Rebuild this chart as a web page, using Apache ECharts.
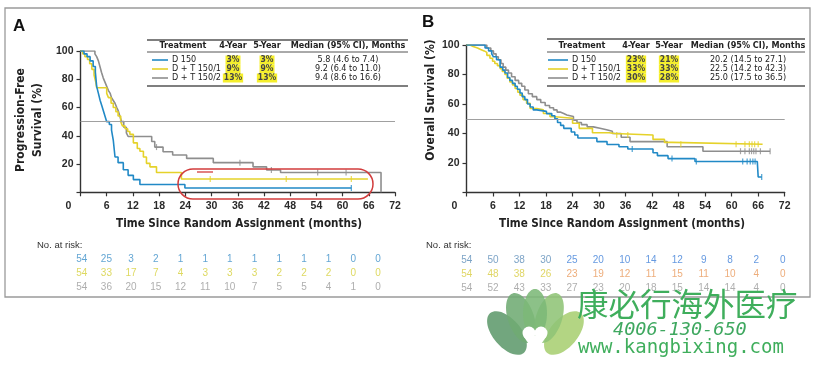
<!DOCTYPE html>
<html><head><meta charset="utf-8">
<script src="https://cdn.jsdelivr.net/npm/echarts@6/dist/echarts.min.js"></script>
<style>html,body{margin:0;padding:0;background:#fff}#c{width:817px;height:368px}</style>
</head><body><div id="c"></div>
<script>
// ---------- DATA ----------
const xTicks = [0,6,12,18,24,30,36,42,48,54,60,66,72];
const treatments = ['D 150','D + T 150/1','D + T 150/2'];
const pfs4Year = ['3%','9%','13%'];
const pfs5Year = ['3%','9%','13%'];
const pfsMedian = ['5.8 (4.6 to 7.4)','9.2 (6.4 to 11.0)','9.4 (8.6 to 16.6)'];
const os4Year = ['23%','33%','30%'];
const os5Year = ['21%','33%','28%'];
const osMedian = ['20.2 (14.5 to 27.1)','22.5 (14.2 to 42.3)','25.0 (17.5 to 36.5)'];

const atRiskTimes = [0,6,12,18,24,30,36,42,48,54,60,66,72];
const pfsAtRiskD150 = [54,25,3,2,1,1,1,1,1,1,1,0,0];
const pfsAtRiskDT1  = [54,33,17,7,4,3,3,3,2,2,2,0,0];
const pfsAtRiskDT2  = [54,36,20,15,12,11,10,7,5,5,4,1,0];
const osAtRiskD150  = [54,50,38,30,25,20,10,14,12,9,8,2,0];
const osAtRiskDT1   = [54,48,38,26,23,19,12,11,15,11,10,4,0];
const osAtRiskDT2   = [54,52,43,33,27,23,20,18,15,14,14,4,0];

// Kaplan-Meier step points [month, survival %]
const pfsD150 = [[0,100],[0.8,98],[1.5,96],[2.2,93],[2.9,89],[3.4,85],[3.7,75],[4.1,70],[4.5,65],[4.9,61],[5.3,57],[5.7,53],[6.0,50],[6.6,48],[7.1,44],[7.5,37],[7.9,25],[8.6,21],[9.8,16],[10.9,12],[12.1,9],[13.6,5.5],[23.9,3],[62,3]];
const pfsDT1 = [[0,100],[0.5,98],[1.0,96],[1.6,94],[2.1,91],[2.6,87],[3.1,83],[3.5,78],[3.7,74],[6.0,70],[6.4,67],[7.0,63],[7.5,60],[8.1,57],[8.6,54],[9.2,50],[9.6,47],[10.2,45],[10.8,43],[11.3,41],[12.1,35],[13.0,31],[13.6,29],[14.4,25],[15.1,20.5],[15.9,18],[17.4,14],[23.1,9.4],[65.8,9.4]];
const pfsDT2 = [[0,100],[3.3,98],[3.7,96],[4.1,93],[4.45,89],[4.8,85],[5.2,81],[5.6,78],[6.0,75],[6.4,72],[6.8,70],[7.1,67],[7.5,65],[7.9,63],[8.3,60],[8.6,58],[9.0,54],[9.4,50],[9.9,46],[10.5,42],[10.9,39.5],[16.3,36],[17.0,32],[18.9,28.7],[21.1,26.4],[24.3,24],[30.4,21],[39.5,18],[42.6,15.8],[45.8,14],[68.8,14],[68.8,0]];

const osD150 = [[0,100],[4.2,98],[5.0,96],[5.7,94],[6.1,92],[6.8,90],[7.6,85],[8.2,83],[8.7,81],[9.3,78],[9.8,76],[10.4,74],[11.0,72],[11.5,70],[12.1,67.5],[12.6,65],[13.2,63],[13.8,60],[14.4,58],[15.1,56],[15.9,55],[18.1,53.5],[19.3,52],[20.0,50],[20.6,47.5],[21.3,45.5],[22.0,43.5],[23.7,41],[24.5,39],[25.2,37],[29.5,34.5],[31.8,32.5],[34.5,31],[36.5,29.5],[42.2,27],[43.2,25],[45.6,23],[51.7,21],[65.8,21],[66.0,10.5],[66.8,10.5]];
const osDT1 = [[0,100],[0.8,99],[1.5,98],[2.5,97],[3.2,96],[4.0,95],[4.6,93],[5.3,91],[5.9,89],[6.4,87.5],[7.0,86],[7.6,84],[8.1,82],[8.7,80],[9.2,77.5],[9.8,75],[10.4,73],[11.0,70.5],[11.6,68],[12.1,66],[12.8,63],[13.6,60.5],[14.4,57],[15.9,56],[17.4,53.6],[18.9,51.4],[20.0,50.3],[24.0,47],[25.5,43.5],[28.5,40.5],[32.3,40],[33.5,39],[42.2,36],[44.8,34],[46.5,32.7],[67,32.7]];
const osDT2 = [[0,100],[4.6,98],[5.5,96],[6.1,94],[6.7,92],[7.2,90],[7.8,87.5],[8.3,85],[8.9,83],[9.5,81],[10.2,78.5],[11.0,76],[11.8,74],[12.5,72],[13.2,69.5],[14.0,67],[14.9,65],[15.9,63],[16.8,61],[17.8,59],[18.8,57.5],[19.7,56],[20.5,54.5],[21.2,53.5],[22.0,52.5],[22.7,51.5],[24.2,49],[25.0,47.5],[26.0,46],[27.3,44.5],[28.7,43.5],[30.2,42.5],[31.7,41.5],[33.0,40],[35.0,37.5],[37.0,34.5],[45.4,31],[53.5,28],[68.7,28]];

// censor times (months)
const pfsCensorD150 = [62];
const pfsCensorDT1 = [29.7,47.1,62];
const pfsCensorDT2 = [17.4,36.5,43.7,54.3,60.8];
const osCensorD150 = [37.5,46.5,52,62.5,63.5,64.2,64.8,65.3,66.8];
const osCensorDT1 = [34,36.5,48.5,61,63,64,64.6,65.2,66];
const osCensorDT2 = [62,63,64,64.5,65,65.5,66.5,68.7];

// ---------- STYLE ----------
const COL = {blue:'#2189c6', yellow:'#e5d22a', gray:'#8e8e8e'};
const FONT = "'Liberation Sans Narrow','Arial Narrow','DejaVu Sans Condensed','Liberation Sans',Arial,sans-serif";
const FONT2 = "'Liberation Sans',Arial,sans-serif";

function survAt(curve, t){ let v = curve[0][1]; for (const p of curve){ if (p[0] <= t) v = p[1]; } return v; }

function kmSeries(curve, color, xi, extra){
  return Object.assign({type:'line', step:'end', xAxisIndex:xi, yAxisIndex:xi, data:curve, showSymbol:false, symbol:'none',
    lineStyle:{color:color, width:1.6}, itemStyle:{color:color}, silent:true, animation:false, z:3}, extra||{});
}
function censorSeries(curve, times, color, xi){
  return {type:'scatter', xAxisIndex:xi, yAxisIndex:xi, data:times.map(t=>[t, survAt(curve,t)]),
    symbol:'rect', symbolSize:[1.2,6], itemStyle:{color:color}, silent:true, animation:false, z:4};
}
function riskSeries(counts, row, colorFn, xi){
  return {type:'scatter', xAxisIndex:xi, yAxisIndex:xi, symbolSize:0, silent:true, animation:false,
    data: counts.map((n,i)=>({value:[atRiskTimes[i], row], n:n, label:{color:colorFn(i)}})),
    label:{show:true, position:'inside', fontSize:10, fontFamily:FONT2, formatter:p=>String(p.data.n)}};
}

function plotXAxis(gi){
  return {gridIndex:gi, type:'value', min:0, max:72, interval:6,
    axisLine:{show:true, onZero:false, lineStyle:{color:'#333', width:1.4}},
    axisTick:{show:true, length:4, lineStyle:{color:'#333', width:1.2}},
    splitLine:{show:false},
    axisLabel:{fontSize:10.5, fontWeight:'bold', color:'#2a2a2a', margin:8, fontFamily:FONT2,
      formatter:v=> v===0 ? '{z|0}' : String(v),
      rich:{z:{padding:[0,24,0,0], fontSize:10.5, fontWeight:'bold', color:'#2a2a2a', fontFamily:FONT2}}}};
}
function plotYAxis(gi){
  return {gridIndex:gi, type:'value', min:0, max:100, interval:20,
    axisLine:{show:true, lineStyle:{color:'#333', width:1.4}},
    axisTick:{show:true, length:4, lineStyle:{color:'#333', width:1.2}},
    splitLine:{show:false},
    axisLabel:{fontSize:10.5, fontWeight:'bold', color:'#2a2a2a', margin:7, fontFamily:FONT2,
      formatter:v=> v===0 ? '' : String(v)}};
}
function riskXAxis(gi){ return {gridIndex:gi, type:'value', min:0, max:72, show:false}; }
function riskYAxis(gi){ return {gridIndex:gi, type:'category', data:['r0','r1','r2'], inverse:true, show:false}; }

// ---------- TABLE (graphic) ----------
function buildTable(g, cfg){
  const lc = '#555';
  g.push({type:'line', shape:{x1:cfg.x0,y1:cfg.yTop,x2:cfg.x1,y2:cfg.yTop}, style:{stroke:lc, lineWidth:1.3}});
  g.push({type:'line', shape:{x1:cfg.x0,y1:cfg.yLine,x2:cfg.x1,y2:cfg.yLine}, style:{stroke:lc, lineWidth:1}});
  g.push({type:'line', shape:{x1:cfg.x0,y1:cfg.yBottom,x2:cfg.x1,y2:cfg.yBottom}, style:{stroke:lc, lineWidth:1.3}});
  const hs = {fontSize:9, fontWeight:'bold', fill:'#222', fontFamily:FONT, align:'center', verticalAlign:'middle'};
  [['Treatment',cfg.hTreat],['4-Year',cfg.c4],['5-Year',cfg.c5],['Median (95% CI), Months',cfg.cMed]].forEach(h=>{
    g.push({type:'text', x:h[1], y:cfg.yHead, style:Object.assign({text:h[0]}, hs)});
  });
  const colors = [COL.blue, COL.yellow, COL.gray];
  treatments.forEach((tr,i)=>{
    const y = cfg.yRows[i];
    g.push({type:'line', shape:{x1:cfg.s0,y1:y,x2:cfg.s1,y2:y}, style:{stroke:colors[i], lineWidth:1.6}});
    g.push({type:'text', x:cfg.tx, y:y, style:{text:tr, fontSize:9, fill:'#222', fontFamily:FONT, align:'left', verticalAlign:'middle'}});
    [[cfg.four[i],cfg.c4],[cfg.five[i],cfg.c5]].forEach(v=>{
      g.push({type:'text', x:v[1], y:y, style:{text:v[0], fontSize:8.5, fontWeight:'bold', fill:'#444', fontFamily:FONT, align:'center', verticalAlign:'middle', backgroundColor:'#f4ee2c', padding:[0,1,0,1]}});
    });
    g.push({type:'text', x:cfg.cMed, y:y, style:{text:cfg.med[i], fontSize:9, fill:'#222', fontFamily:FONT, align:'center', verticalAlign:'middle'}});
  });
}

const graphic = [];
// frame
graphic.push({type:'rect', shape:{x:5,y:8,width:805,height:289}, style:{fill:'none', stroke:'#9a9a9a', lineWidth:1.3}, z:-1});
// panel labels
graphic.push({type:'text', x:13, y:26, style:{text:'A', fontSize:17, fontWeight:'bold', fill:'#111', fontFamily:FONT2, verticalAlign:'middle'}});
graphic.push({type:'text', x:422, y:22, style:{text:'B', fontSize:17, fontWeight:'bold', fill:'#111', fontFamily:FONT2, verticalAlign:'middle'}});
// axis names
const an = {fontSize:12, fontWeight:'bold', fill:'#222', fontFamily:FONT, align:'center', verticalAlign:'middle'};
const anx = Object.assign({}, an, {fontSize:11.6});
graphic.push({type:'text', x:21, y:120, rotation:Math.PI/2, style:Object.assign({text:'Progression-Free'}, an)});
graphic.push({type:'text', x:38, y:120, rotation:Math.PI/2, style:Object.assign({text:'Survival (%)'}, an)});
graphic.push({type:'text', x:431, y:100, rotation:Math.PI/2, style:Object.assign({text:'Overall Survival (%)'}, an)});
graphic.push({type:'text', x:239, y:224, style:Object.assign({text:'Time Since Random Assignment (months)'}, anx)});
graphic.push({type:'text', x:622, y:224, style:Object.assign({text:'Time Since Random Assignment (months)'}, anx)});
// no. at risk
graphic.push({type:'text', x:37, y:245, style:{text:'No. at risk:', fontSize:9.5, fill:'#333', fontFamily:FONT2, verticalAlign:'middle'}});
graphic.push({type:'text', x:426, y:245, style:{text:'No. at risk:', fontSize:9.5, fill:'#333', fontFamily:FONT2, verticalAlign:'middle'}});
// tables
buildTable(graphic, {x0:147,x1:408,yTop:40,yHead:46,yLine:52,yRows:[60,69,78],yBottom:86,hTreat:183,c4:233,c5:267,cMed:348,s0:152,s1:168,tx:172,four:pfs4Year,five:pfs5Year,med:pfsMedian});
buildTable(graphic, {x0:547,x1:805,yTop:39,yHead:46,yLine:52,yRows:[60,69,78],yBottom:86,hTreat:582,c4:636,c5:669,cMed:748,s0:548,s1:568,tx:572,four:os4Year,five:os5Year,med:osMedian});
// red annotation
graphic.push({type:'rect', shape:{x:178,y:169,width:195,height:30,r:15}, style:{fill:'none', stroke:'#d23c3c', lineWidth:1.5}, z:10});
graphic.push({type:'line', shape:{x1:197,y1:172,x2:213,y2:172}, style:{stroke:'#d23c3c', lineWidth:1.3}, z:10});
// watermark logo
const leaves = [
  {cx:507,cy:333,rx:14,ry:26,r:0.7,c:'#5e9a6c'},
  {cx:564,cy:333,rx:14,ry:26,r:-0.7,c:'#a8cf72'},
  {cx:521,cy:318,rx:13,ry:26,r:0.33,c:'#6fab73'},
  {cx:549,cy:318,rx:13,ry:26,r:-0.33,c:'#8fc476'},
  {cx:535,cy:313,rx:12,ry:24,r:0,c:'#7cb878'}
];
leaves.forEach(l=>graphic.push({type:'ellipse', x:l.cx, y:l.cy, rotation:l.r, shape:{cx:0,cy:0,rx:l.rx,ry:l.ry}, style:{fill:l.c, opacity:0.88}, z:20}));
graphic.push({type:'circle', shape:{cx:529,cy:333,r:6.5}, style:{fill:'#ffffff'}, z:21});
graphic.push({type:'circle', shape:{cx:541,cy:333,r:6.5}, style:{fill:'#ffffff'}, z:21});
graphic.push({type:'polygon', shape:{points:[[523,335.5],[547,335.5],[535,353]]}, style:{fill:'#ffffff'}, z:21});
graphic.push({type:'text', x:577, y:304, style:{text:'康必行海外医疗', fontSize:31.5, fill:'#3fae5c', fontFamily:"'Noto Sans CJK SC',sans-serif", verticalAlign:'middle'}, z:20});
graphic.push({type:'text', x:613, y:330, style:{text:'4006-130-650', fontSize:18.5, fontStyle:'italic', fill:'#3fa860', fontFamily:"'DejaVu Sans Mono',monospace", verticalAlign:'middle'}, z:20});
graphic.push({type:'text', x:578, y:348, style:{text:'www.kangbixing.com', fontSize:19, fill:'#3fae5c', fontFamily:"'DejaVu Sans Mono',monospace", verticalAlign:'middle'}, z:20});

const refLine = {markLine:{silent:true, symbol:'none', animation:false, label:{show:false}, lineStyle:{color:'#a0a0a0', width:1, type:'solid'}, data:[{yAxis:50}]}};

const chart = echarts.init(document.getElementById('c'), null, {renderer:'canvas'});
chart.setOption({
  animation:false,
  backgroundColor:'#ffffff',
  grid:[
    {left:80.5, top:51, width:314.5, height:141.3, containLabel:false, outerBoundsMode:'none'},
    {left:466.5, top:45, width:318.2, height:147.5, containLabel:false, outerBoundsMode:'none'},
    {left:81.7, top:252, width:296.3, height:42, containLabel:false, outerBoundsMode:'none'},
    {left:466.7, top:253, width:316, height:42, containLabel:false, outerBoundsMode:'none'}
  ],
  xAxis:[plotXAxis(0), plotXAxis(1), riskXAxis(2), riskXAxis(3)],
  yAxis:[plotYAxis(0), plotYAxis(1), riskYAxis(2), riskYAxis(3)],
  series:[
    kmSeries(pfsDT2, COL.gray, 0, refLine),
    kmSeries(pfsDT1, COL.yellow, 0),
    kmSeries(pfsD150, COL.blue, 0),
    censorSeries(pfsDT2, pfsCensorDT2, COL.gray, 0),
    censorSeries(pfsDT1, pfsCensorDT1, COL.yellow, 0),
    censorSeries(pfsD150, pfsCensorD150, COL.blue, 0),
    kmSeries(osDT2, COL.gray, 1, refLine),
    kmSeries(osDT1, COL.yellow, 1),
    kmSeries(osD150, COL.blue, 1),
    censorSeries(osDT2, osCensorDT2, COL.gray, 1),
    censorSeries(osDT1, osCensorDT1, COL.yellow, 1),
    censorSeries(osD150, osCensorD150, COL.blue, 1),
    riskSeries(pfsAtRiskD150, 0, ()=> '#3b8fc8', 2),
    riskSeries(pfsAtRiskDT1, 1, ()=> '#d6d03a', 2),
    riskSeries(pfsAtRiskDT2, 2, ()=> '#9a9a9a', 2),
    riskSeries(osAtRiskD150, 0, i=> i<4 ? '#5b8cb8' : '#3e80d8', 3),
    riskSeries(osAtRiskDT1, 1, i=> i<4 ? '#d8cc40' : '#e8995a', 3),
    riskSeries(osAtRiskDT2, 2, ()=> '#9a9a9a', 3)
  ],
  graphic:{elements:graphic}
});
</script>
</body></html>
